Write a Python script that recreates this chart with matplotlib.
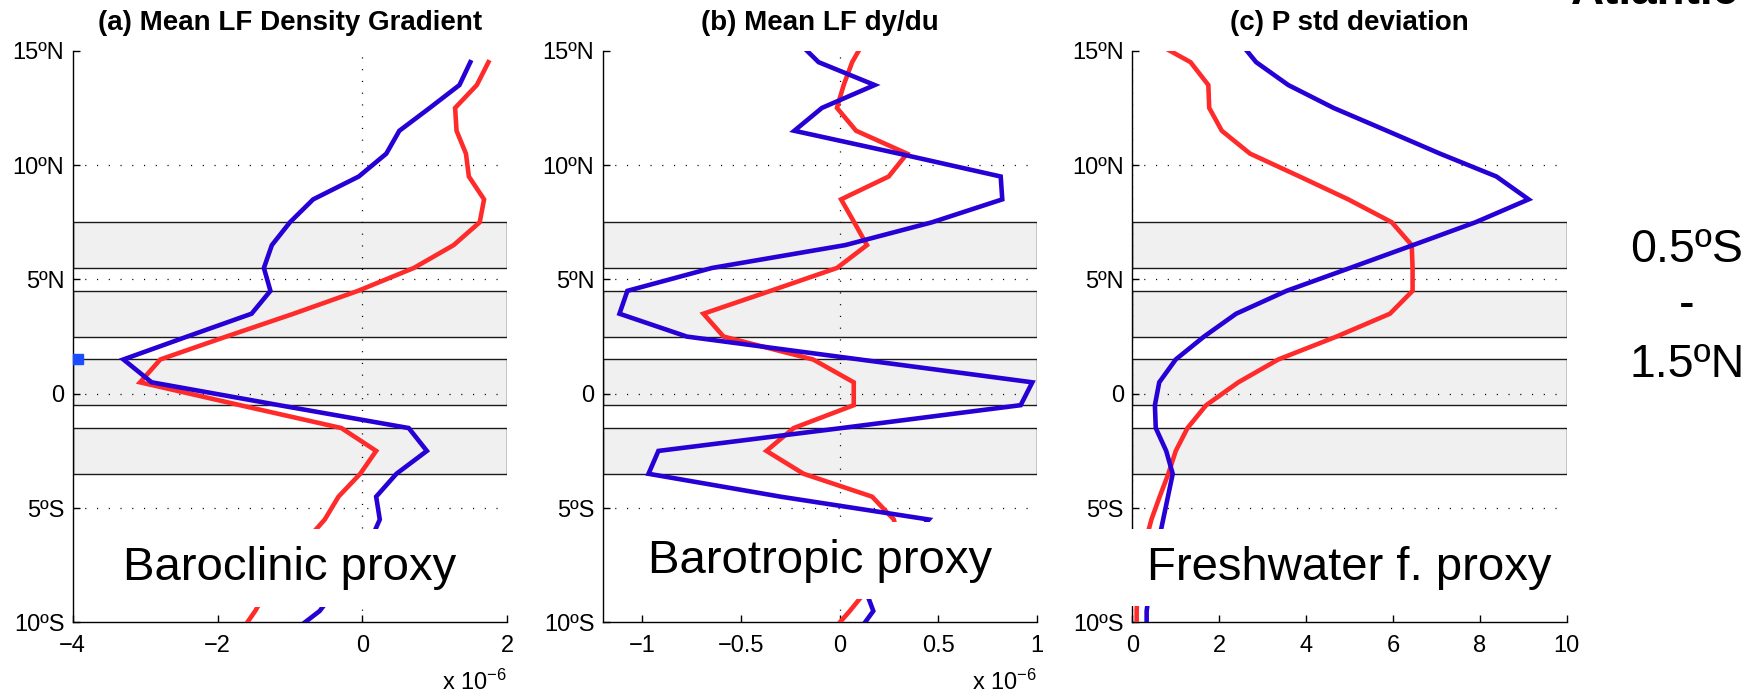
import numpy as np
import matplotlib
matplotlib.use('Agg')
import matplotlib.pyplot as plt

plt.rcParams['font.family'] = ['Liberation Sans', 'DejaVu Sans']
plt.rcParams['mathtext.default'] = 'regular'

nan = np.nan
# latitude of each value (deg, + = N)
lat = [15.5, 14.5, 13.5, 12.5, 11.5, 10.5, 9.5, 8.5, 7.5, 6.5, 5.5, 4.5, 3.5,
       2.5, 1.5, 0.5, -0.5, -1.5, -2.5, -3.5, -4.5, -5.5, -6.5, -7.5, -8.5,
       -9.5, -10.5]

# (a) mean LF density gradient (x 1e-6)
dens_blue = [nan, 1.49, 1.34, 0.93, 0.51, 0.33, -0.05, -0.68, -1.00, -1.25,
             -1.36, -1.27, -1.53, -2.42, -3.30, -2.91, -1.15, 0.64, 0.89,
             0.47, 0.19, 0.24, 0.10, -0.10, -0.35, -0.59, -1.00]
dens_red = [nan, 1.74, 1.58, 1.28, 1.30, 1.43, 1.47, 1.68, 1.62, 1.26,
            0.71, -0.06, -0.95, -1.88, -2.79, -3.07, -1.69, -0.29, 0.19,
            -0.03, -0.33, -0.52, -0.80, -1.05, -1.30, -1.48, -1.70]

# (b) mean LF dy/du (x 1e-6)
dydu_blue = [-0.225, -0.107, 0.177, -0.09, -0.23, 0.30, 0.815, 0.823, 0.468,
             0.028, -0.647, -1.075, -1.115, -0.774, 0.10, 0.975, 0.916,
             0.01, -0.918, -0.968, -0.30, 0.451, 0.35, 0.20, 0.127, 0.17,
             0.086]
dydu_red = [0.129, 0.063, 0.02, -0.014, 0.083, 0.341, 0.248, 0.007, 0.073,
            0.138, -0.014, -0.35, -0.69, -0.588, -0.135, 0.071, 0.071,
            -0.233, -0.371, -0.183, 0.164, 0.274, 0.30, 0.25, 0.145, 0.051,
            -0.05]

# (c) P std deviation
pstd_blue = [2.42, 2.85, 3.59, 4.63, 5.86, 7.08, 8.38, 9.12, 7.90, 6.46,
             5.01, 3.55, 2.39, 1.65, 1.00, 0.62, 0.52, 0.54, 0.78, 0.93,
             0.82, 0.71, 0.60, 0.50, 0.40, 0.33, 0.33]
pstd_red = [0.39, 1.34, 1.75, 1.77, 2.06, 2.71, 3.85, 4.97, 5.97, 6.43,
            6.45, 6.45, 5.93, 4.70, 3.36, 2.44, 1.70, 1.27, 1.00, 0.83,
            0.63, 0.44, 0.30, 0.20, 0.12, 0.10, 0.10]

bands = [(5.5, 7.5), (2.5, 4.5), (-0.5, 1.5), (-3.5, -1.5)]
yticks = [15, 10, 5, 0, -5, -10]
ylabels = ['15ºN', '10ºN', '5ºN', '0', '5ºS', '10ºS']

titles = ['(a) Mean LF Density Gradient', '(b) Mean LF dy/du', '(c) P std deviation']
proxies = ['Baroclinic proxy', 'Barotropic proxy', 'Freshwater f. proxy']
proxy_y = [-7.62, -7.3, -7.6]
xlims = [(-4, 2), (-1.2, 1), (0, 10)]
xticks = [[-4, -2, 0, 2], [-1, -0.5, 0, 0.5, 1], [0, 2, 4, 6, 8, 10]]
xlabels = [['\u22124', '\u22122', '0', '2'],
           ['\u22121', '\u22120.5', '0', '0.5', '1'],
           ['0', '2', '4', '6', '8', '10']]
blues = [dens_blue, dydu_blue, pstd_blue]
reds = [dens_red, dydu_red, pstd_red]

BLUE = '#2600d4'
RED = '#ff2b2b'

fig = plt.figure(figsize=(17.65, 6.97), dpi=100)
lefts = [0.04119, 0.34147, 0.64153]
for i in range(3):
    ax = fig.add_axes([lefts[i], 0.1070, 0.2462, 0.8202])
    for y0, y1 in bands:
        ax.axhspan(y0, y1, facecolor='#f0f0f0', edgecolor='#1a1a1a', lw=1.0, zorder=1)
    for g in [10, 5, 0, -5]:
        ax.axhline(g, color='k', lw=0.9, dashes=(0.9, 8.5), zorder=2)
    ax.axvline(0, color='k', lw=0.9, dashes=(0.9, 8.5), zorder=2)
    ax.plot(reds[i], lat, color=RED, lw=3.3, zorder=3, solid_joinstyle='miter')
    ax.plot(blues[i], lat, color=BLUE, lw=3.3, zorder=3, solid_joinstyle='miter')
    if i == 0:
        ax.plot([-3.92], [1.5], 's', color='#1a4dff', ms=7, zorder=4, clip_on=False)
    ax.set_xlim(*xlims[i])
    ax.set_ylim(-10, 15)
    ax.set_xticks(xticks[i])
    ax.set_xticklabels(xlabels[i])
    ax.set_yticks(yticks)
    ax.set_yticklabels(ylabels)
    ax.tick_params(direction='in', length=5, width=1, labelsize=17)
    ax.tick_params(axis='y', pad=6)
    ax.tick_params(axis='x', pad=9)
    for s in ['top', 'right']:
        ax.spines[s].set_visible(False)
    for s in ['left', 'bottom']:
        ax.spines[s].set_linewidth(1.0)
    ax.set_title(titles[i], fontsize=20, fontweight='bold', pad=15)
    ax.text(0.5 * (xlims[i][0] + xlims[i][1]), proxy_y[i], proxies[i],
            fontsize=34, ha='center', va='center', zorder=6,
            bbox=dict(facecolor='white', edgecolor='none', pad=12))
    if i < 2:
        ax.text(1.0, -0.118, r'x 10$^{-6}$', transform=ax.transAxes,
                ha='right', va='baseline', fontsize=17)

fig.text(1687 / 1765, 1 - 261.7 / 697, '0.5ºS', fontsize=33.5, ha='center', va='baseline')
fig.text(1687 / 1765, 1 - 318 / 697, '-', fontsize=33.5, ha='center', va='baseline')
fig.text(1687 / 1765, 1 - 376.7 / 697, '1.5ºN', fontsize=33.5, ha='center', va='baseline')
# panel heading that sits mostly above the canvas in the original
fig.text(1655 / 1765, 1 - 3.5 / 697, 'Atlantic', fontsize=33, fontweight='bold',
         ha='center', va='baseline')

fig.savefig('out.png', dpi=100)
